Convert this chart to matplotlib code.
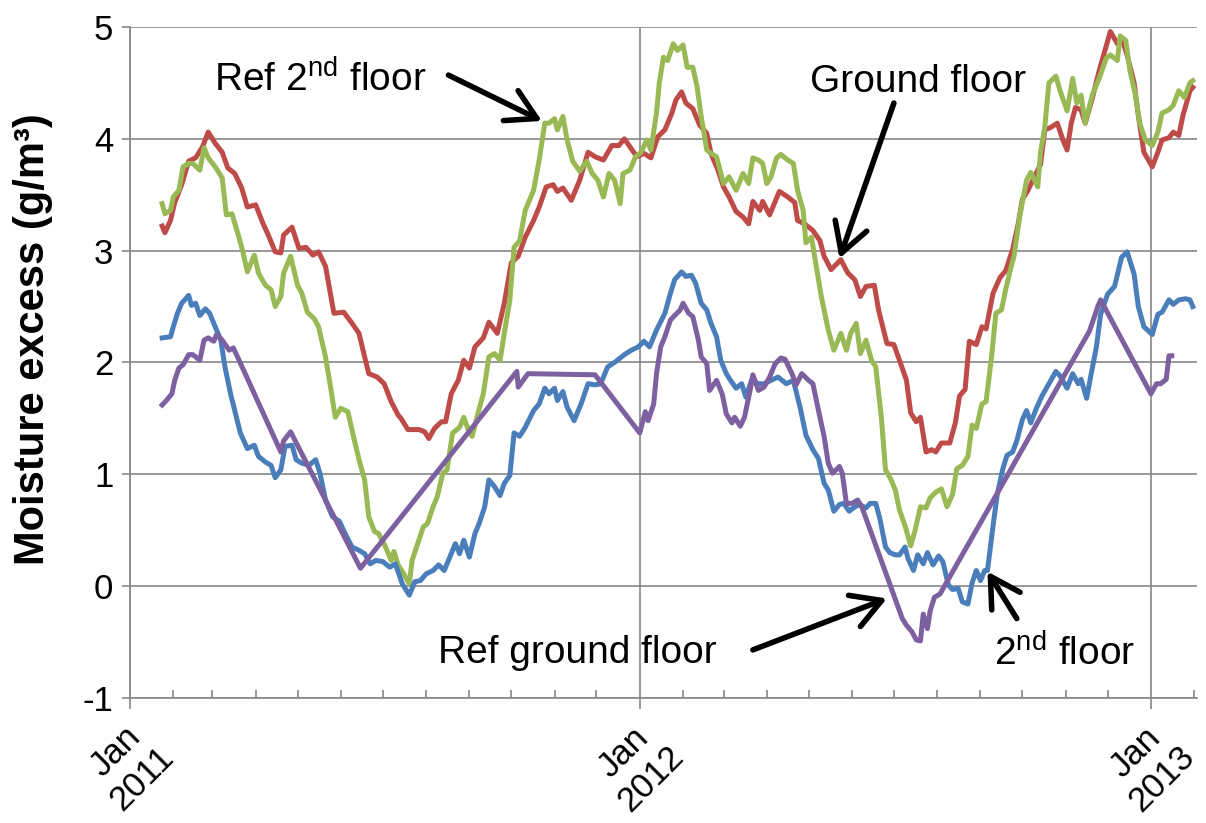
import numpy as np
import pandas as pd
import matplotlib
matplotlib.use("Agg")
import matplotlib.pyplot as plt
import matplotlib.dates as mdates
from matplotlib.transforms import ScaledTranslation

plt.rcParams['font.family'] = ['Liberation Sans', 'DejaVu Sans']
plt.rcParams['mathtext.fontset'] = 'custom'
plt.rcParams['mathtext.rm'] = 'Liberation Sans'
plt.rcParams['axes.unicode_minus'] = False

# days counted from 1 Jan 2011, values in g/m3
ground_day = [23, 25, 29, 32, 37, 42, 47, 52, 56, 61, 66, 70, 75, 80, 84, 90, 95, 99, 104, 108,
              110, 116, 121, 126, 131, 135, 140, 146, 153, 159, 164, 168, 171, 177, 182, 187, 192, 194, 199, 202,
              207, 211, 214, 218, 223, 226, 230, 235, 239, 243, 247, 253, 257, 263, 268, 273, 278, 283, 289, 293,
              298, 303, 306, 310, 316, 322, 328, 333, 339, 345, 350, 354, 359, 363, 368, 373, 378, 383, 388, 391,
              395, 398, 403, 408, 413, 416, 421, 425, 429, 434, 439, 443, 446, 451, 453, 458, 465, 471, 476, 478,
              483, 489, 494, 497, 502, 509, 514, 519, 523, 527, 533, 536, 542, 547, 551, 556, 559, 563, 566, 570,
              574, 577, 581, 587, 591, 594, 598, 601, 606, 610, 613, 618, 623, 627, 632, 636, 639, 643, 648, 652,
              655, 659, 664, 668, 671, 674, 677, 681, 684, 689, 694, 699, 702, 707, 710, 714, 719, 722, 726, 732,
              736, 739, 744, 747, 751, 754, 759, 761]
ground_val = [3.22, 3.16, 3.27, 3.43, 3.59, 3.80, 3.83, 3.93, 4.06, 3.96, 3.88, 3.74, 3.69, 3.56, 3.39, 3.41, 3.25, 3.14, 2.99, 2.98,
              3.14, 3.21, 3.02, 3.03, 2.96, 2.99, 2.86, 2.44, 2.45, 2.35, 2.26, 2.05, 1.90, 1.87, 1.81, 1.65, 1.53, 1.50, 1.40, 1.40,
              1.40, 1.38, 1.32, 1.41, 1.47, 1.47, 1.72, 1.84, 2.02, 1.95, 2.14, 2.22, 2.36, 2.26, 2.53, 2.89, 2.95, 3.12, 3.27, 3.39,
              3.57, 3.59, 3.53, 3.56, 3.45, 3.63, 3.88, 3.84, 3.81, 3.94, 3.94, 4.00, 3.91, 3.84, 3.87, 3.83, 4.02, 4.08, 4.23, 4.35,
              4.42, 4.32, 4.27, 4.12, 4.05, 3.87, 3.72, 3.57, 3.48, 3.35, 3.30, 3.24, 3.44, 3.36, 3.44, 3.32, 3.53, 3.48, 3.43, 3.27,
              3.24, 3.18, 3.09, 2.95, 2.83, 2.92, 2.80, 2.74, 2.59, 2.68, 2.69, 2.47, 2.17, 2.16, 2.02, 1.84, 1.55, 1.47, 1.51, 1.20,
              1.22, 1.20, 1.28, 1.28, 1.46, 1.70, 1.76, 2.19, 2.16, 2.32, 2.30, 2.62, 2.76, 2.82, 3.01, 3.24, 3.46, 3.54, 3.67, 3.77,
              4.08, 4.10, 4.14, 3.99, 3.90, 4.14, 4.28, 4.26, 4.14, 4.36, 4.61, 4.83, 4.96, 4.85, 4.90, 4.75, 4.50, 4.21, 3.88, 3.75,
              3.88, 3.99, 4.01, 4.06, 4.03, 4.21, 4.43, 4.46]

ref2_day = [23, 25, 29, 31, 35, 38, 42, 45, 50, 53, 56, 61, 66, 69, 73, 78, 81, 84, 89, 92,
            97, 101, 104, 108, 110, 115, 120, 123, 127, 132, 135, 140, 144, 147, 151, 156, 160, 164, 168, 171,
            175, 178, 183, 187, 189, 192, 196, 200, 202, 206, 210, 213, 217, 220, 224, 227, 231, 236, 239, 243,
            245, 249, 253, 257, 261, 265, 268, 272, 275, 279, 283, 289, 293, 297, 300, 304, 306, 310, 313, 317,
            322, 327, 331, 335, 339, 343, 347, 351, 353, 358, 362, 366, 370, 373, 377, 379, 382, 385, 389, 392,
            396, 399, 403, 406, 409, 413, 416, 420, 425, 429, 434, 439, 443, 446, 450, 453, 456, 459, 463, 466,
            471, 475, 478, 482, 484, 488, 491, 495, 500, 504, 509, 513, 516, 520, 523, 527, 531, 534, 538, 541,
            545, 548, 551, 555, 559, 562, 566, 570, 573, 577, 581, 585, 589, 592, 596, 600, 603, 606, 610, 613,
            617, 620, 624, 627, 631, 633, 637, 642, 645, 650, 652, 655, 658, 663, 666, 671, 675, 678, 681, 684,
            689, 694, 699, 702, 707, 709, 713, 716, 720, 723, 727, 732, 736, 739, 744, 747, 751, 755, 759, 761]
ref2_val = [3.42, 3.33, 3.36, 3.48, 3.54, 3.75, 3.78, 3.78, 3.72, 3.92, 3.83, 3.75, 3.65, 3.32, 3.33, 3.12, 2.98, 2.81, 2.96, 2.80,
            2.69, 2.65, 2.50, 2.59, 2.80, 2.95, 2.69, 2.62, 2.45, 2.39, 2.32, 2.05, 1.75, 1.51, 1.59, 1.56, 1.34, 1.13, 0.95, 0.62,
            0.49, 0.47, 0.35, 0.23, 0.31, 0.19, 0.11, 0.02, 0.23, 0.38, 0.53, 0.56, 0.71, 0.80, 1.01, 1.04, 1.37, 1.42, 1.51, 1.37,
            1.34, 1.54, 1.72, 2.05, 2.08, 2.02, 2.26, 2.56, 3.03, 3.09, 3.36, 3.54, 3.81, 4.14, 4.14, 4.18, 4.08, 4.20, 3.99, 3.80,
            3.71, 3.80, 3.69, 3.63, 3.48, 3.69, 3.63, 3.42, 3.69, 3.72, 3.84, 3.88, 3.99, 3.90, 4.23, 4.50, 4.73, 4.70, 4.85, 4.79,
            4.84, 4.64, 4.64, 4.47, 4.20, 3.90, 3.87, 3.84, 3.60, 3.66, 3.54, 3.69, 3.60, 3.83, 3.81, 3.78, 3.60, 3.66, 3.83, 3.86,
            3.81, 3.78, 3.54, 3.36, 3.07, 3.12, 2.89, 2.59, 2.29, 2.11, 2.26, 2.11, 2.26, 2.35, 2.08, 2.20, 2.02, 1.96, 1.51, 1.04,
            0.95, 0.86, 0.68, 0.54, 0.36, 0.49, 0.71, 0.70, 0.79, 0.84, 0.87, 0.71, 0.82, 1.05, 1.08, 1.16, 1.44, 1.41, 1.63, 1.65,
            2.06, 2.44, 2.47, 2.65, 2.86, 2.95, 3.30, 3.63, 3.70, 3.57, 3.88, 4.10, 4.50, 4.56, 4.43, 4.25, 4.54, 4.32, 4.39, 4.14,
            4.39, 4.54, 4.72, 4.75, 4.70, 4.92, 4.88, 4.61, 4.39, 4.14, 3.99, 3.94, 4.06, 4.23, 4.26, 4.30, 4.43, 4.37, 4.50, 4.52]

second_day = [23, 29, 31, 34, 37, 42, 44, 47, 50, 54, 57, 61, 65, 68, 72, 75, 79, 84, 89, 92,
              97, 101, 104, 108, 111, 116, 119, 123, 128, 133, 136, 140, 145, 150, 154, 159, 164, 168, 172, 176,
              181, 186, 190, 195, 200, 204, 208, 212, 217, 221, 225, 230, 233, 236, 239, 243, 247, 250, 254, 257,
              261, 265, 268, 272, 275, 279, 283, 289, 293, 297, 300, 304, 306, 310, 313, 318, 323, 328, 333, 337,
              342, 348, 354, 359, 364, 368, 372, 377, 383, 387, 390, 395, 398, 402, 405, 409, 413, 416, 420, 423,
              427, 430, 434, 438, 441, 445, 450, 454, 459, 464, 470, 475, 480, 484, 489, 493, 497, 500, 504, 508,
              511, 515, 518, 522, 527, 530, 534, 537, 541, 544, 548, 551, 555, 557, 561, 564, 568, 571, 575, 579,
              582, 586, 589, 593, 596, 600, 603, 606, 609, 612, 614, 618, 621, 625, 628, 632, 635, 639, 642, 645,
              649, 653, 658, 663, 666, 671, 675, 679, 681, 685, 688, 692, 695, 700, 705, 710, 714, 719, 722, 726,
              732, 736, 739, 744, 747, 751, 756, 759, 761]
second_val = [2.22, 2.23, 2.32, 2.44, 2.53, 2.60, 2.51, 2.53, 2.42, 2.48, 2.44, 2.32, 2.20, 1.96, 1.72, 1.57, 1.37, 1.23, 1.26, 1.16,
              1.11, 1.08, 0.97, 1.04, 1.25, 1.26, 1.13, 1.10, 1.08, 1.13, 1.01, 0.77, 0.62, 0.58, 0.47, 0.35, 0.32, 0.29, 0.20, 0.23,
              0.22, 0.17, 0.20, 0.02, -0.08, 0.04, 0.05, 0.11, 0.14, 0.19, 0.14, 0.29, 0.38, 0.29, 0.41, 0.26, 0.47, 0.56, 0.71, 0.95,
              0.89, 0.81, 0.92, 0.99, 1.37, 1.34, 1.42, 1.57, 1.63, 1.77, 1.72, 1.77, 1.66, 1.74, 1.60, 1.48, 1.63, 1.81, 1.80, 1.81,
              1.96, 2.01, 2.07, 2.11, 2.14, 2.19, 2.14, 2.29, 2.44, 2.62, 2.74, 2.81, 2.77, 2.78, 2.71, 2.53, 2.47, 2.35, 2.23, 2.02,
              1.90, 1.84, 1.77, 1.81, 1.69, 1.84, 1.81, 1.81, 1.84, 1.87, 1.81, 1.84, 1.59, 1.35, 1.22, 1.14, 0.92, 0.86, 0.67, 0.73,
              0.74, 0.67, 0.70, 0.73, 0.70, 0.74, 0.74, 0.60, 0.35, 0.30, 0.28, 0.28, 0.35, 0.25, 0.14, 0.28, 0.20, 0.30, 0.19, 0.27,
              0.22, 0.01, -0.03, -0.02, -0.14, -0.16, 0.03, 0.14, 0.05, 0.14, 0.14, 0.54, 0.82, 1.05, 1.17, 1.20, 1.30, 1.49, 1.57, 1.46,
              1.59, 1.70, 1.81, 1.92, 1.88, 1.77, 1.90, 1.81, 1.85, 1.68, 1.88, 2.14, 2.43, 2.61, 2.68, 2.94, 2.99, 2.79, 2.50, 2.32,
              2.25, 2.43, 2.45, 2.56, 2.52, 2.56, 2.57, 2.56, 2.50]

refground_day = [23, 26, 30, 32, 35, 38, 42, 45, 50, 53, 56, 60, 62, 66, 71, 74, 77, 108, 110, 115,
                 165, 277, 278, 285, 333, 365, 369, 371, 375, 377, 380, 383, 387, 390, 394, 396, 400, 403, 407, 409,
                 413, 415, 420, 424, 427, 431, 433, 437, 440, 444, 446, 450, 454, 458, 462, 466, 469, 474, 477, 481,
                 486, 489, 493, 497, 500, 503, 508, 510, 513, 517, 521, 524, 553, 556, 560, 563, 566, 568, 571, 573,
                 576, 580, 687, 690, 693, 695, 731, 735, 738, 742, 744, 746]
refground_val = [1.62, 1.66, 1.72, 1.84, 1.95, 1.98, 2.07, 2.07, 2.02, 2.20, 2.22, 2.19, 2.25, 2.20, 2.11, 2.13, 2.05, 1.20, 1.30, 1.38,
                 0.16, 1.92, 1.78, 1.90, 1.89, 1.37, 1.56, 1.48, 1.63, 1.90, 2.14, 2.23, 2.38, 2.42, 2.47, 2.53, 2.44, 2.41, 2.20, 2.05,
                 1.99, 1.75, 1.84, 1.72, 1.54, 1.46, 1.51, 1.43, 1.51, 1.75, 1.89, 1.75, 1.78, 1.87, 1.99, 2.04, 2.03, 1.90, 1.80, 1.90,
                 1.84, 1.81, 1.57, 1.34, 1.10, 1.01, 1.07, 1.01, 0.74, 0.74, 0.77, 0.71, -0.29, -0.35, -0.41, -0.48, -0.49, -0.25, -0.38, -0.22,
                 -0.10, -0.07, 2.28, 2.39, 2.50, 2.56, 1.72, 1.81, 1.81, 1.85, 2.06, 2.06]

tick_dates = ["2011-01-01", "2012-01-01", "2013-01-01"]
tick_labels = ["Jan\n2011", "Jan\n2012", "Jan\n2013"]

start = pd.Timestamp("2011-01-01")


def to_dates(days):
    return start + pd.to_timedelta(np.asarray(days), unit="D")


def d(day):
    return start + pd.Timedelta(days=day)


grey = "#868686"
fig = plt.figure(figsize=(12.06, 8.23), dpi=100)
ax = fig.add_axes([0.1078, 0.1519, 0.8847, 0.8153])

lw = 3.6
ax.plot(to_dates(ground_day), ground_val, color="#BE4B48", lw=lw, solid_joinstyle="round", zorder=3)
ax.plot(to_dates(ref2_day), ref2_val, color="#98B954", lw=lw, solid_joinstyle="round", zorder=4)
ax.plot(to_dates(second_day), second_val, color="#4A7EBB", lw=lw, solid_joinstyle="round", zorder=5)
ax.plot(to_dates(refground_day), refground_val, color="#7D60A0", lw=lw, solid_joinstyle="round", zorder=6)

ax.set_xlim(start, pd.Timestamp("2013-02-03"))
ax.set_ylim(-1, 5)
ax.set_yticks(range(-1, 6))

ax.set_xticks(pd.to_datetime(tick_dates))
ax.set_xticklabels(tick_labels, rotation=45, ha="right", va="top",
                   rotation_mode="anchor", multialignment="center")
ax.xaxis.set_minor_locator(mdates.MonthLocator())
shift = ScaledTranslation(10 / 100, 0, fig.dpi_scale_trans)
for lbl in ax.get_xticklabels():
    lbl.set_transform(lbl.get_transform() + shift)

ax.tick_params(axis="x", which="major", direction="out", length=8, width=1.2,
               color=grey, labelsize=25, pad=3)
ax.tick_params(axis="x", which="minor", direction="in", length=6, width=1.2, color=grey)
ax.tick_params(axis="y", direction="out", length=6, width=1.2, color=grey, labelsize=25, pad=6)

ax.grid(True, axis="y", color=grey, lw=1.2)
ax.grid(True, axis="x", which="major", color=grey, lw=1.2)
ax.set_axisbelow(True)
for s in ["top", "right"]:
    ax.spines[s].set_visible(False)
for s in ["left", "bottom"]:
    ax.spines[s].set_color(grey)
    ax.spines[s].set_linewidth(1.2)

fig.text(0.027, 1 - 339 / 823, "Moisture excess (g/m³)", rotation=90,
         fontsize=30, fontweight="bold", ha="center", va="center")

# annotations
arrow = dict(arrowstyle="->,head_length=0.7,head_width=0.4", lw=4, color="black",
             shrinkA=0, shrinkB=0, mutation_scale=30)
ax.text(d(136.5), 4.42, "Ref 2$^{\\mathrm{nd}}$ floor", fontsize=28, ha="center", va="baseline")
ax.annotate("", xy=(d(295), 4.16), xytext=(d(228), 4.57), arrowprops=arrow)
ax.text(d(564), 4.42, "Ground floor", fontsize=28, ha="center", va="baseline")
ax.annotate("", xy=(d(508), 2.93), xytext=(d(547), 4.32), arrowprops=arrow)
ax.text(d(320), -0.69, "Ref ground floor", fontsize=28, ha="center", va="baseline")
ax.annotate("", xy=(d(542), -0.11), xytext=(d(446), -0.57), arrowprops=arrow)
ax.text(d(669.5), -0.71, "2$^{\\mathrm{nd}}$ floor", fontsize=28, ha="center", va="baseline")
ax.annotate("", xy=(d(614), 0.13), xytext=(d(635), -0.29), arrowprops=arrow)

fig.savefig("out.png", dpi=100)
